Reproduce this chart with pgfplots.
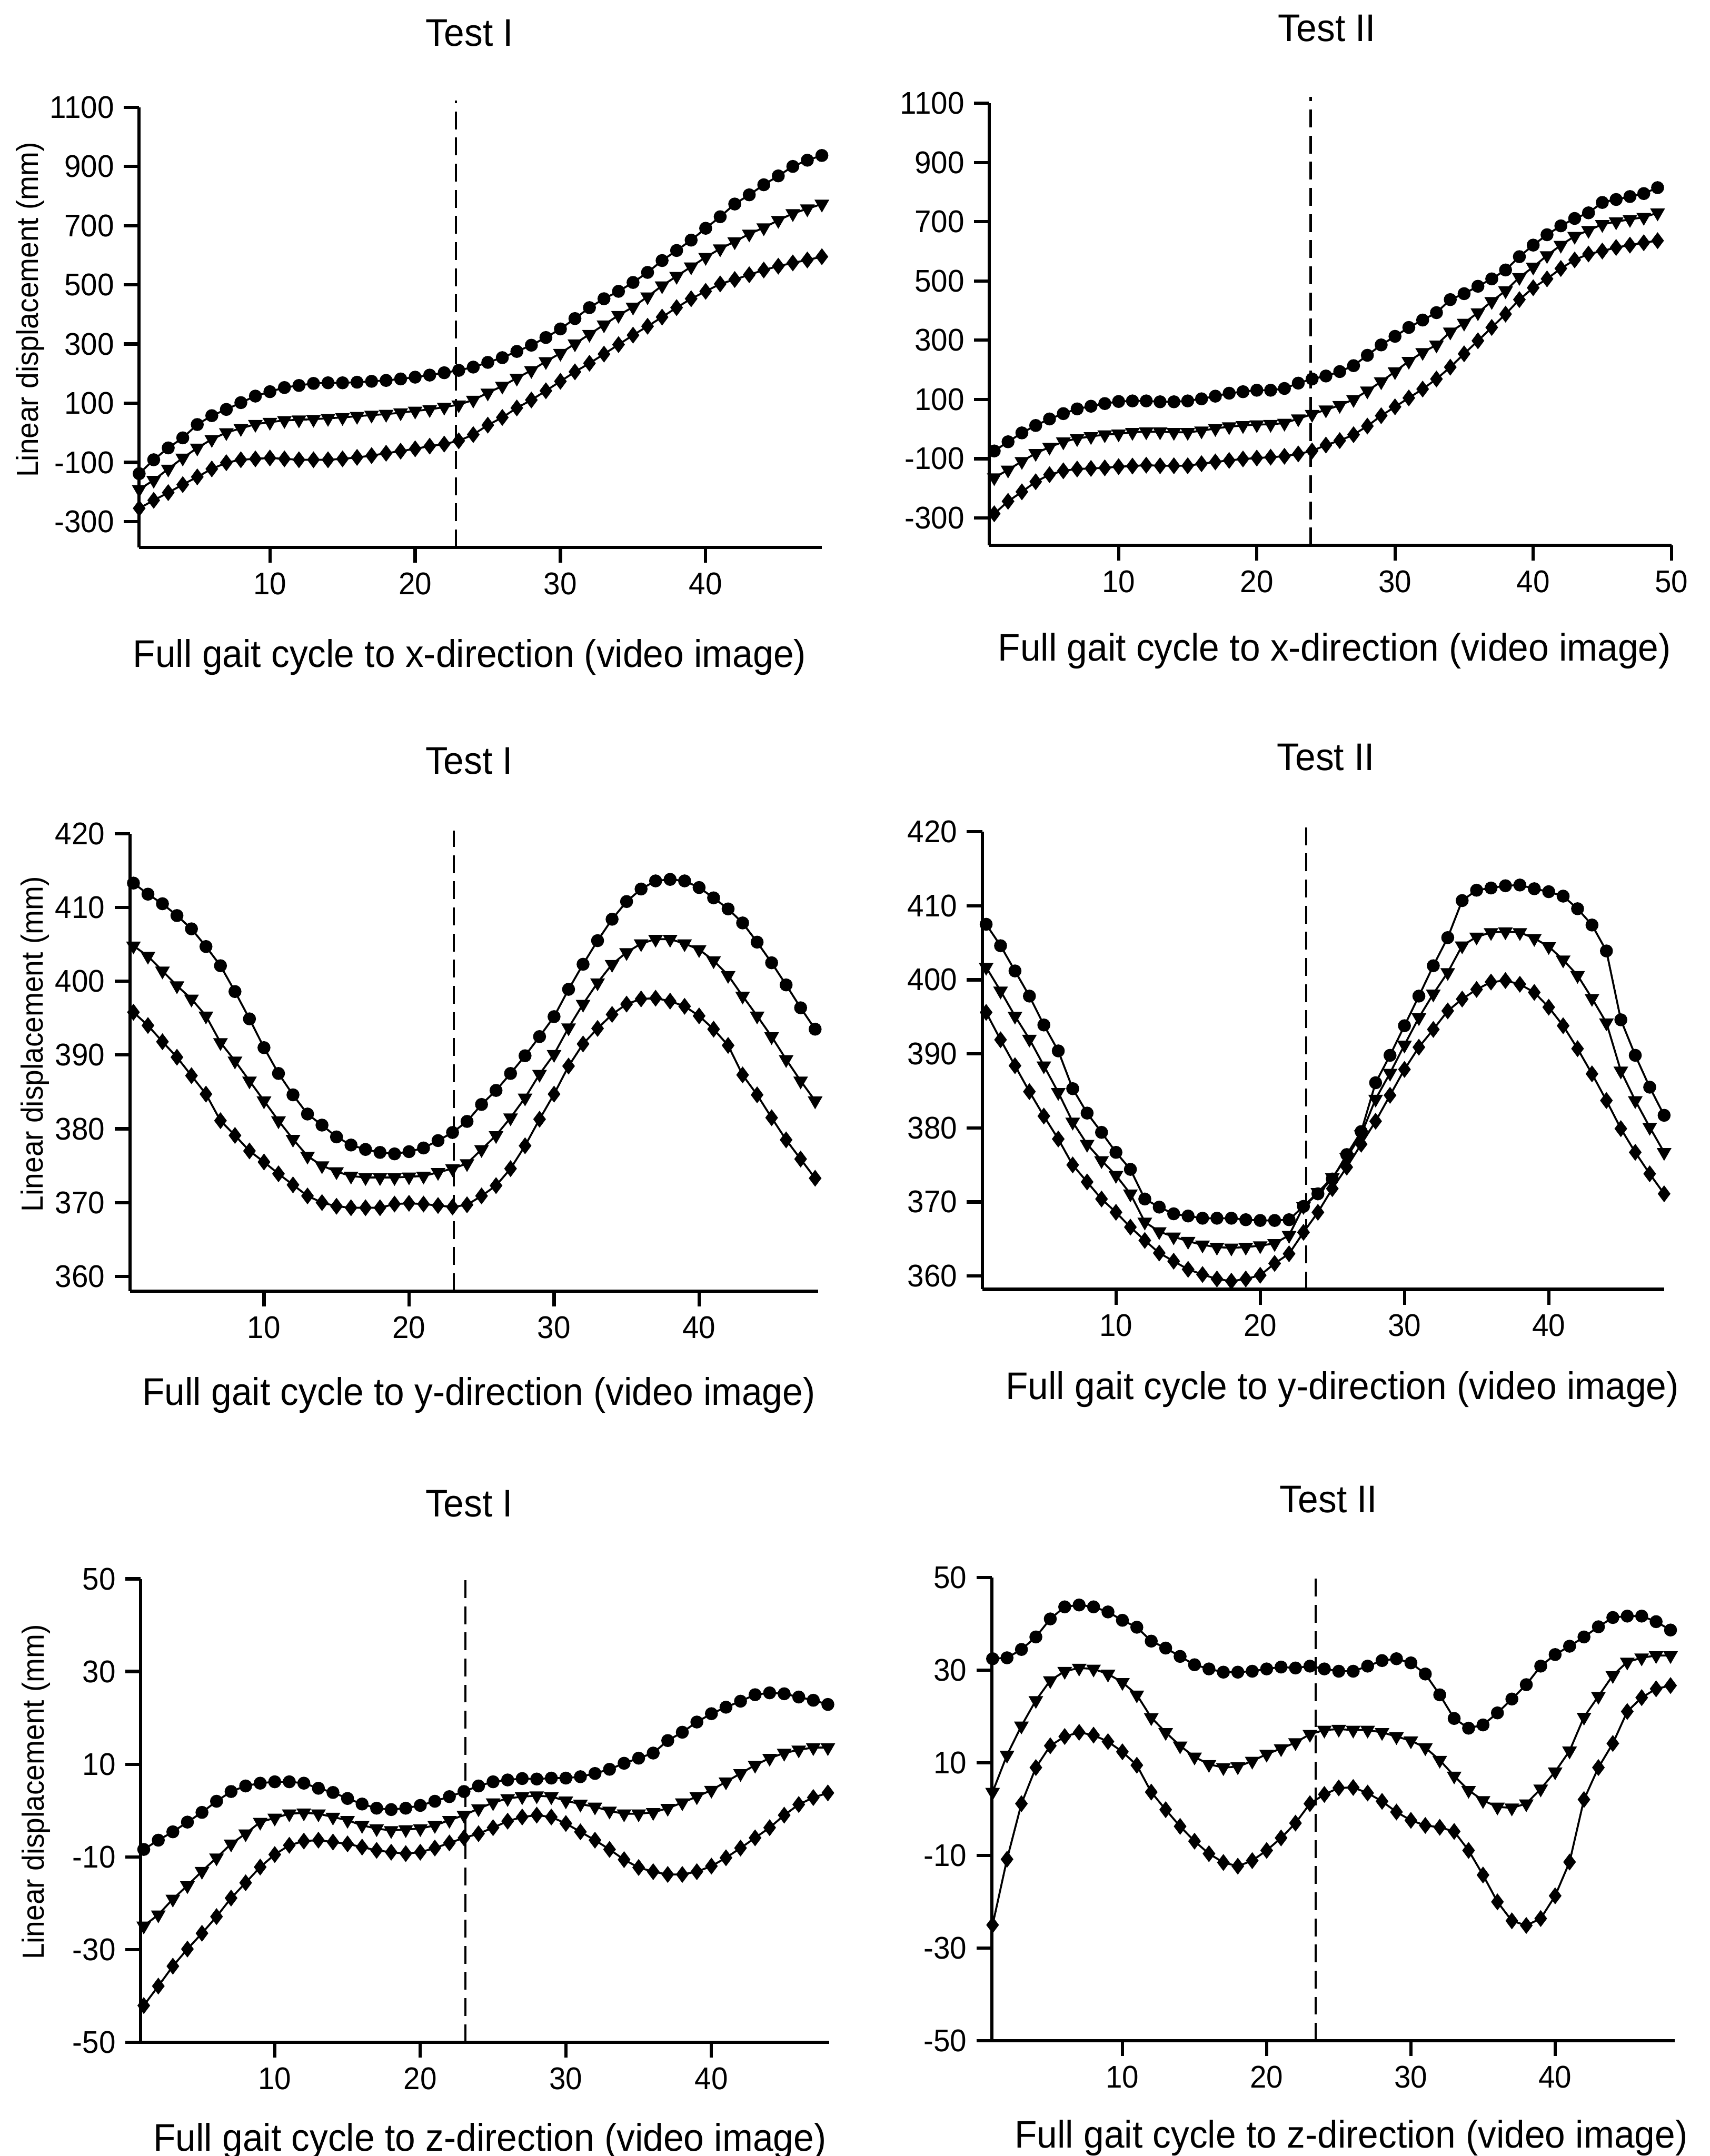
\documentclass[border=0pt]{standalone}
\usepackage{fontspec}
\setmainfont{Liberation Sans}[FakeStretch=0.95]
\usepackage{pgfplots}
\usepackage{pgfplotstable}
\pgfplotsset{compat=1.18}
\newcommand\ticksize{\fontsize{11.4}{13}\selectfont}
\newcommand\labsize{\fontsize{14}{16}\selectfont}
\newcommand\ylabsize{\fontsize{11.1}{12}\selectfont}
\pgfplotsset{
  panel/.style={
    scale only axis, axis lines*=left, tick align=outside,
    axis line style={line width=1.2pt, black},
    major tick length=5.6pt,
    every tick/.style={line width=1.2pt, black},
    tick label style={font=\ticksize, black},
    /pgf/number format/assume math mode=true,
    /pgf/number format/1000 sep={},
    clip=false, xtick={10,20,30,40},
    minor tick num=0,
    every axis title shift=0pt,
    title style={font=\labsize, anchor=base, yshift=0pt},
    xlabel style={font=\labsize, anchor=base},
    ylabel style={font=\ylabsize, anchor=center},
  },
  s1/.style={black, line width=0.7pt, mark=*, mark size=2pt, mark options={solid, fill=black}},
  s2/.style={black, line width=0.7pt, mark=triangle*, mark size=2.4pt, mark options={solid, fill=black, rotate=180}},
  s3/.style={black, line width=0.7pt, mark=diamond*, mark size=2.5pt, mark options={solid, fill=black}},
  vl/.style={black, line width=0.8pt, dash pattern=on 6.5pt off 3pt},
}

\pgfplotstableread{
x a b c
1 -138 -191 -255
2 -91 -160 -228
3 -51 -122 -202
4 -17 -85 -175
5 28 -51 -149
6 58 -22 -122
7 79 1 -101
8 102 15 -91
9 124 29 -88
10 139 36 -85
11 153 42 -88
12 160 44 -91
13 167 46 -91
14 169 49 -91
15 169 52 -88
16 171 56 -83
17 174 60 -77
18 177 63 -69
19 182 68 -62
20 188 74 -54
21 195 79 -45
22 203 87 -38
23 211 95 -27
24 222 111 -6
25 238 135 26
26 254 158 52
27 275 185 84
28 296 211 111
29 322 241 142
30 351 269 174
31 386 301 206
32 423 333 235
33 453 365 266
34 478 397 298
35 508 425 330
36 542 460 360
37 582 497 391
38 616 529 423
39 651 561 453
40 691 593 478
41 730 622 503
42 773 646 518
43 804 672 534
44 838 693 550
45 868 718 563
46 900 741 574
47 921 757 584
48 937 773 595
}\tTL

\pgfplotstableread{
x a b c
1 -74 -164 -286
2 -43 -138 -244
3 -13 -109 -212
4 12 -82 -178
5 34 -61 -154
6 52 -43 -141
7 68 -32 -135
8 77 -25 -133
9 86 -19 -131
10 93 -16 -127
11 95 -11 -125
12 95 -9 -122
13 92 -9 -124
14 92 -11 -124
15 95 -11 -124
16 102 -6 -117
17 111 2 -111
18 121 8 -106
19 126 12 -101
20 131 15 -98
21 131 16 -95
22 137 20 -92
23 155 35 -84
24 169 50 -74
25 179 65 -54
26 194 80 -39
27 214 100 -19
28 249 129 10
29 284 160 45
30 313 194 75
31 343 229 105
32 368 259 135
33 393 284 169
34 437 328 209
35 457 358 254
36 482 393 298
37 507 431 343
38 537 467 388
39 582 512 437
40 621 547 477
41 656 586 507
42 686 621 542
43 711 651 571
44 730 671 591
45 765 691 601
46 775 700 613
47 785 708 621
48 795 715 629
49 815 730 636
}\tTR

\pgfplotstableread{
x a b c
1 413.3 404.8 395.8
2 411.8 403.4 394.0
3 410.5 401.4 391.8
4 408.9 399.4 389.7
5 407.1 397.6 387.2
6 404.7 395.3 384.7
7 402.1 391.7 381.1
8 398.6 389.2 379.1
9 394.9 386.5 377.0
10 391.0 383.8 375.5
11 387.5 381.1 373.9
12 384.6 378.6 372.4
13 382.0 376.3 370.9
14 380.5 375.0 370.0
15 378.9 374.2 369.5
16 377.8 373.6 369.3
17 377.2 373.4 369.3
18 376.8 373.4 369.3
19 376.6 373.4 369.8
20 376.9 373.5 369.9
21 377.4 373.6 369.8
22 378.4 374.1 369.6
23 379.5 374.6 369.4
24 381.0 375.3 369.7
25 383.3 377.2 370.9
26 385.2 379.1 372.3
27 387.5 381.5 374.6
28 389.9 384.2 377.7
29 392.5 387.4 381.3
30 395.2 390.1 384.7
31 398.9 393.7 388.5
32 402.3 396.9 391.5
33 405.5 399.8 393.6
34 408.4 402.3 395.5
35 410.8 403.9 396.9
36 412.5 405.1 397.6
37 413.6 405.7 397.7
38 413.8 405.7 397.3
39 413.6 405.1 396.6
40 412.7 404.3 395.3
41 411.3 402.8 393.5
42 409.8 400.8 391.3
43 407.9 398.0 387.3
44 405.3 395.3 384.6
45 402.5 392.5 381.5
46 399.5 389.4 378.5
47 396.4 386.5 375.9
48 393.5 383.8 373.3
}\tML

\pgfplotstableread{
x a b c
1 407.5 401.7 395.6
2 404.6 398.5 391.9
3 401.2 395.1 388.4
4 397.8 392.0 384.9
5 393.9 388.4 381.6
6 390.4 384.8 378.5
7 385.3 380.8 375.0
8 382.0 377.8 372.7
9 379.4 375.6 370.4
10 376.7 373.6 368.6
11 374.4 371.1 366.6
12 370.4 367.3 364.8
13 369.3 366.0 363.1
14 368.4 365.3 362.0
15 368.1 364.7 360.9
16 367.8 364.2 360.2
17 367.8 363.9 359.6
18 367.8 363.8 359.3
19 367.6 363.9 359.6
20 367.5 364.1 360.1
21 367.5 364.4 361.7
22 367.6 365.5 363.0
23 369.4 369.4 365.9
24 371.1 371.3 368.6
25 373.1 373.3 371.8
26 376.4 376.0 374.7
27 379.5 379.1 377.8
28 386.1 383.9 380.9
29 389.8 387.4 384.4
30 393.8 391.2 387.9
31 397.8 394.9 390.9
32 401.9 398.1 393.3
33 405.7 401.0 395.8
34 410.7 404.6 397.4
35 412.1 405.8 398.7
36 412.4 406.4 399.7
37 412.7 406.5 399.9
38 412.8 406.4 399.4
39 412.3 405.6 398.3
40 411.9 404.5 396.3
41 411.3 402.7 393.8
42 409.6 400.6 390.7
43 407.4 397.5 387.3
44 403.9 394.2 383.7
45 394.6 387.7 379.9
46 389.8 383.7 376.7
47 385.5 380.1 373.8
48 381.7 376.7 371.1
}\tMR

\pgfplotstableread{
x a b c
1 -8.4 -24.9 -42.1
2 -6.4 -22.5 -37.9
3 -4.6 -19.1 -33.6
4 -2.5 -16.2 -29.9
5 -0.4 -13.1 -26.5
6 2.0 -10.2 -22.9
7 4.1 -7.2 -18.9
8 5.3 -5.0 -15.6
9 5.9 -2.5 -12.2
10 6.2 -1.6 -9.5
11 6.2 -0.7 -7.5
12 5.9 -0.5 -6.6
13 4.8 -0.7 -6.4
14 3.9 -1.4 -6.8
15 2.6 -2.1 -7.2
16 1.4 -3.2 -7.9
17 0.5 -3.9 -8.6
18 0.2 -4.3 -9.0
19 0.5 -4.1 -9.3
20 1.1 -3.9 -9.0
21 2.0 -3.2 -8.1
22 3.0 -2.1 -7.0
23 4.1 -1.0 -5.9
24 5.3 0.4 -5.0
25 6.2 1.7 -3.7
26 6.6 2.6 -2.3
27 6.9 3.0 -1.4
28 6.8 3.2 -1.0
29 7.0 3.0 -1.4
30 7.0 2.1 -2.8
31 7.3 1.4 -4.6
32 8.0 0.8 -6.4
33 8.9 -0.1 -8.4
34 10.2 -0.7 -10.6
35 11.3 -0.7 -12.3
36 12.4 -0.4 -13.2
37 15.1 0.5 -13.8
38 16.9 1.7 -13.8
39 19.1 3.0 -13.2
40 20.9 4.4 -12.0
41 22.3 6.2 -10.2
42 23.6 8.0 -8.1
43 25.0 9.8 -5.9
44 25.4 11.3 -3.7
45 25.2 12.4 -1.0
46 24.5 13.1 1.3
47 23.8 13.6 2.8
48 22.9 13.6 3.8
}\tBL

\pgfplotstableread{
x a b c
1 32.5 3.7 -25.0
2 32.7 11.7 -10.8
3 34.5 18.0 1.2
4 37.2 23.5 9.0
5 41.1 27.8 13.7
6 43.7 29.8 15.7
7 44.1 30.5 16.6
8 43.7 30.3 16.0
9 42.6 29.2 14.6
10 40.8 27.4 12.4
11 39.3 24.7 9.5
12 36.3 19.8 3.7
13 34.8 16.6 -0.1
14 33.0 13.7 -3.7
15 31.2 11.3 -6.9
16 30.3 9.7 -9.6
17 29.6 9.0 -11.5
18 29.6 9.2 -12.3
19 29.8 10.4 -11.1
20 30.3 11.9 -8.9
21 30.7 13.1 -6.2
22 30.5 14.4 -3.0
23 30.9 16.2 1.2
24 30.3 17.1 3.2
25 29.8 17.3 4.6
26 29.8 17.1 4.7
27 30.9 17.1 3.5
28 32.1 16.6 1.7
29 32.5 15.7 -0.6
30 31.6 14.8 -2.4
31 29.2 13.3 -3.5
32 24.7 10.6 -3.9
33 19.6 7.2 -4.8
34 17.5 4.1 -8.9
35 18.2 1.9 -14.2
36 20.8 0.5 -20.0
37 23.8 0.3 -24.1
38 26.9 1.2 -25.1
39 30.9 4.4 -23.6
40 33.4 8.1 -18.7
41 35.2 12.6 -11.4
42 37.2 19.9 2.1
43 39.4 24.4 9.0
44 41.4 28.9 14.2
45 41.7 31.8 21.1
46 41.7 32.7 24.1
47 40.5 33.2 26.0
48 38.7 33.2 26.7
}\tBR

\newcommand\ylab{Linear displacement (mm)}

\begin{document}
\begin{tikzpicture}
\path[use as bounding box] (0,0) rectangle (621.5pt,784pt);

% ---- Top left
\begin{axis}[panel, at={(50.6pt,584.95pt)}, anchor=south west,
  width=248.2pt, height=160.05pt,
  xmin=1, xmax=48, ymin=-387, ymax=1100,
  ytick={-300,-100,100,300,500,700,900,1100},
  title={Test I}, title style={at={([yshift=22.2pt]axis description cs:0.484,1)}},
  xlabel={Full gait cycle to x-direction (video image)},
  xlabel style={at={([yshift=-43.5pt]axis description cs:0.484,0)}},
  ylabel={\ylab},
  ylabel style={at={([xshift=-39.6pt]axis description cs:0,0.54)}},
]
\addplot[s1] table[x=x,y=a]{\tTL};
\addplot[s2] table[x=x,y=b]{\tTL};
\addplot[s3] table[x=x,y=c]{\tTL};
\addplot[vl] coordinates {(22.8,-387) (22.8,1123)};
\end{axis}

% ---- Top right
\begin{axis}[panel, at={(359.7pt,585.65pt)}, anchor=south west,
  width=247.95pt, height=160.8pt,
  xmin=0.65, xmax=50, ymin=-393, ymax=1100,
  xtick={10,20,30,40,50},
  ytick={-300,-100,100,300,500,700,900,1100},
  title={Test II}, title style={at={([yshift=22.5pt]axis description cs:0.495,1)}},
  xlabel={Full gait cycle to x-direction (video image)},
  xlabel style={at={([yshift=-42pt]axis description cs:0.506,0)}},
]
\addplot[s1] table[x=x,y=a]{\tTR};
\addplot[s2] table[x=x,y=b]{\tTR};
\addplot[s3] table[x=x,y=c]{\tTR};
\addplot[vl] coordinates {(23.9,-393) (23.9,1121)};
\end{axis}

% ---- Middle left
\begin{axis}[panel, at={(47.25pt,314.5pt)}, anchor=south west,
  width=250.15pt, height=166.35pt,
  xmin=0.76, xmax=48.2, ymin=358, ymax=420,
  ytick={360,370,380,390,400,410,420},
  title={Test I}, title style={at={([yshift=21.6pt]axis description cs:0.493,1)}},
  xlabel={Full gait cycle to y-direction (video image)},
  xlabel style={at={([yshift=-41.5pt]axis description cs:0.507,0)}},
  ylabel={\ylab},
  ylabel style={at={([xshift=-34.5pt]axis description cs:0,0.54)}},
]
\addplot[s1] table[x=x,y=a]{\tML};
\addplot[s2] table[x=x,y=b]{\tML};
\addplot[s3] table[x=x,y=c]{\tML};
\addplot[vl] coordinates {(23.1,358) (23.1,420.4)};
\end{axis}

% ---- Middle right
\begin{axis}[panel, at={(357.1pt,315.15pt)}, anchor=south west,
  width=247.9pt, height=166.4pt,
  xmin=0.73, xmax=48, ymin=358.2, ymax=420,
  ytick={360,370,380,390,400,410,420},
  title={Test II}, title style={at={([yshift=22.4pt]axis description cs:0.504,1)}},
  xlabel={Full gait cycle to y-direction (video image)},
  xlabel style={at={([yshift=-40pt]axis description cs:0.528,0)}},
]
\addplot[s1] table[x=x,y=a]{\tMR};
\addplot[s2] table[x=x,y=b]{\tMR};
\addplot[s3] table[x=x,y=c]{\tMR};
\addplot[vl] coordinates {(23.2,358.2) (23.2,420.6)};
\end{axis}

% ---- Bottom left
\begin{axis}[panel, at={(51.15pt,41.4pt)}, anchor=south west,
  width=250.35pt, height=168.45pt,
  xmin=0.79, xmax=48.1, ymin=-50, ymax=50,
  ytick={-50,-30,-10,10,30,50},
  title={Test I}, title style={at={([yshift=22.6pt]axis description cs:0.477,1)}},
  xlabel={Full gait cycle to z-direction (video image)},
  xlabel style={at={([yshift=-39.5pt]axis description cs:0.507,0)}},
  ylabel={\ylab},
  ylabel style={at={([xshift=-38pt]axis description cs:0,0.54)}},
]
\addplot[s1] table[x=x,y=a]{\tBL};
\addplot[s2] table[x=x,y=b]{\tBL};
\addplot[s3] table[x=x,y=c]{\tBL};
\addplot[vl] coordinates {(23.1,-50) (23.1,50.9)};
\end{axis}

% ---- Bottom right
\begin{axis}[panel, at={(360.6pt,41.9pt)}, anchor=south west,
  width=248.3pt, height=168.4pt,
  xmin=0.95, xmax=48.3, ymin=-50, ymax=50,
  ytick={-50,-30,-10,10,30,50},
  title={Test II}, title style={at={([yshift=23.7pt]axis description cs:0.493,1)}},
  xlabel={Full gait cycle to z-direction (video image)},
  xlabel style={at={([yshift=-39pt]axis description cs:0.526,0)}},
]
\addplot[s1] table[x=x,y=a]{\tBR};
\addplot[s2] table[x=x,y=b]{\tBR};
\addplot[s3] table[x=x,y=c]{\tBR};
\addplot[vl] coordinates {(23.4,-50) (23.4,51.1)};
\end{axis}
\end{tikzpicture}
\end{document}
